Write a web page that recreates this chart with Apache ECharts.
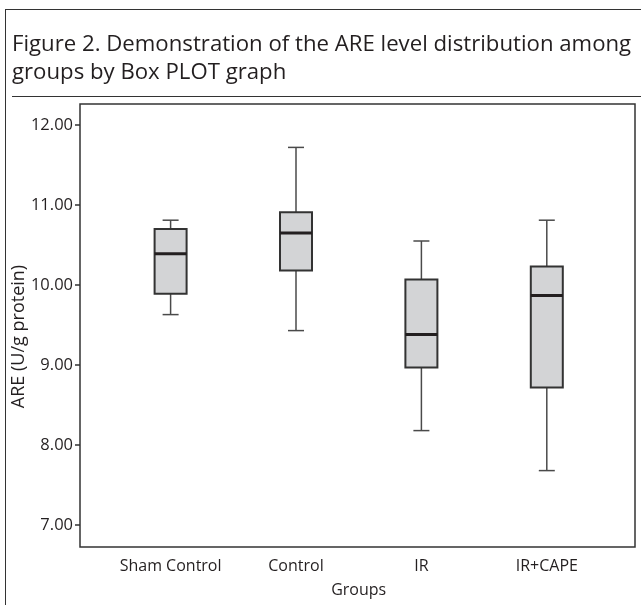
<!DOCTYPE html>
<html>
  <head>
    <meta charset="utf-8" />
    <title>ARE box plot</title>
    <script src="https://cdn.jsdelivr.net/npm/echarts@6/dist/echarts.min.js"></script>
    <style>
      body { margin: 0; background: #fff; }
      #frame { position: absolute; left: 5px; top: 9px; width: 640px; height: 600px;
               border-left: 1.5px solid #333; border-top: 1.5px solid #333; }
      #rule { position: absolute; left: 12px; top: 96px; width: 629px; border-top: 1.5px solid #333; }
      #main { position: absolute; left: 0; top: 0; width: 641px; height: 605px; }
    </style>
  </head>
  <body>
    <div id="frame"></div>
    <div id="rule"></div>
    <div id="main"></div>
    <script type="text/javascript">
      // groups on the x axis
      var groups = ['Sham Control', 'Control', 'IR', 'IR+CAPE'];
      // five-number summaries
      var lowWhisker = [9.63, 9.43, 8.18, 7.68];
      var q1 = [9.89, 10.18, 8.97, 8.72];
      var median = [10.39, 10.65, 9.38, 9.87];
      var q3 = [10.70, 10.91, 10.07, 10.23];
      var highWhisker = [10.81, 11.72, 10.55, 10.81];
      // y tick labels
      var yTicks = [7, 8, 9, 10, 11, 12];

      var font = 'Open Sans';
      var textColor = '#231f20';

      var boxData = groups.map(function (g, i) {
        return [i, lowWhisker[i], q1[i], median[i], q3[i], highWhisker[i]];
      });

      function renderBox(params, api) {
        var x = api.value(0);
        var lo = api.coord([x, api.value(1)]);
        var b = api.coord([x, api.value(2)]);
        var m = api.coord([x, api.value(3)]);
        var t = api.coord([x, api.value(4)]);
        var hi = api.coord([x, api.value(5)]);
        var cx = lo[0];
        var half = 16, cap = 8;
        var whisker = { stroke: '#4a4a4a', lineWidth: 1.5 };
        return {
          type: 'group',
          children: [
            { type: 'line', shape: { x1: cx, y1: hi[1], x2: cx, y2: t[1] }, style: whisker },
            { type: 'line', shape: { x1: cx, y1: b[1], x2: cx, y2: lo[1] }, style: whisker },
            { type: 'line', shape: { x1: cx - cap, y1: hi[1], x2: cx + cap, y2: hi[1] }, style: whisker },
            { type: 'line', shape: { x1: cx - cap, y1: lo[1], x2: cx + cap, y2: lo[1] }, style: whisker },
            { type: 'rect', shape: { x: cx - half, y: t[1], width: half * 2, height: b[1] - t[1] },
              style: { fill: '#d3d4d6', stroke: '#333', lineWidth: 2 } },
            { type: 'line', shape: { x1: cx - half, y1: m[1], x2: cx + half, y2: m[1] },
              style: { stroke: '#231f20', lineWidth: 3 } }
          ]
        };
      }

      var myChart = echarts.init(document.getElementById('main'));
      var option = {
        animation: false,
        title: {
          text: 'Figure 2. Demonstration of the ARE level distribution among\ngroups by Box PLOT graph',
          left: 12,
          top: 31,
          padding: 0,
          textStyle: { fontFamily: font, fontSize: 22.2, fontWeight: 'normal', lineHeight: 28, color: textColor }
        },
        grid: [
          { left: 80, top: 104, width: 555, height: 443, show: true, borderColor: '#333', borderWidth: 1.5,
            containLabel: false, outerBoundsMode: 'none' },
          { left: 107.9, top: 104, width: 501.6, height: 443, containLabel: false, outerBoundsMode: 'none' }
        ],
        xAxis: [
          { type: 'value', gridIndex: 0, show: false, min: 0, max: 1 },
          {
            type: 'category',
            gridIndex: 1,
            data: groups,
            axisLine: { show: false },
            axisTick: { alignWithLabel: true, length: 5, lineStyle: { color: '#333', width: 1.5 } },
            axisLabel: { interval: 0, fontFamily: font, fontSize: 16, color: textColor, margin: 11 },
            name: 'Groups',
            nameLocation: 'middle',
            nameGap: 35,
            nameMoveOverlap: false,
            nameTextStyle: { fontFamily: font, fontSize: 16, color: textColor }
          }
        ],
        yAxis: [
          {
            type: 'value',
            gridIndex: 0,
            min: 6.725,
            max: 12.2625,
            axisLine: { show: false },
            splitLine: { show: false },
            axisTick: { show: true, length: 5, customValues: yTicks, lineStyle: { color: '#333', width: 1.5 } },
            axisLabel: {
              fontFamily: font, fontSize: 16.5, color: textColor, margin: 7,
              customValues: yTicks,
              formatter: function (v) { return v.toFixed(2); }
            },
            name: 'ARE (U/g protein)',
            nameLocation: 'middle',
            nameGap: 52,
            nameMoveOverlap: false,
            nameTextStyle: { fontFamily: font, fontSize: 18, color: textColor, padding: [0, 22, 0, 0] }
          },
          { type: 'value', gridIndex: 1, show: false, min: 6.725, max: 12.2625 }
        ],
        series: [
          {
            type: 'custom',
            xAxisIndex: 1,
            yAxisIndex: 1,
            renderItem: renderBox,
            encode: { x: 0, y: [1, 2, 3, 4, 5] },
            data: boxData
          }
        ]
      };
      myChart.setOption(option);
    </script>
  </body>
</html>
